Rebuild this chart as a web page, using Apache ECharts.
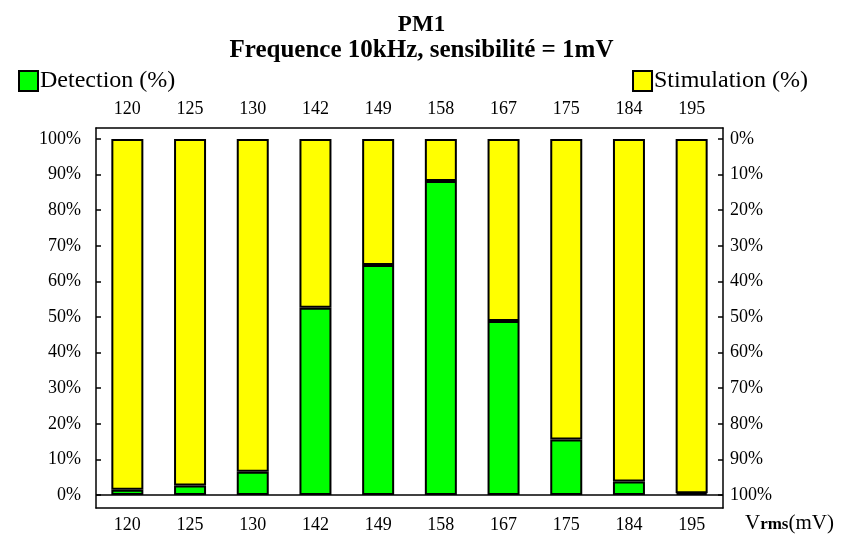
<!DOCTYPE html>
<html>
<head>
<meta charset="utf-8">
<script src="https://cdn.jsdelivr.net/npm/echarts@6/dist/echarts.min.js"></script>
<style>
  html, body { margin: 0; padding: 0; background: #fff; }
  #chart { width: 843px; height: 536px; }
</style>
</head>
<body>
<div id="chart"></div>
<script>
// Vrms levels (mV)
const categories = ['120', '125', '130', '142', '149', '158', '167', '175', '184', '195'];
// Share of pulses detected / stimulated at each level (%)
const detection = [1.5, 2.7, 6.5, 52.6, 64.6, 88.2, 48.9, 15.6, 3.8, 0.5];
const stimulation = [98.5, 97.3, 93.5, 47.4, 35.4, 11.8, 51.1, 84.4, 96.2, 99.5];
// Tick positions on the percentage axes
const leftTicks = [0, 10, 20, 30, 40, 50, 60, 70, 80, 90, 100];
const rightTicks = [0, 10, 20, 30, 40, 50, 60, 70, 80, 90, 100];

const FONT = '"Liberation Serif", "Times New Roman", serif';
const labelStyle = { fontFamily: FONT, fontSize: 18, color: '#000' };
const legendText = { fontFamily: FONT, fontSize: 24, color: '#000' };
const tickLine = { color: '#000', width: 1.5 };

const chart = echarts.init(document.getElementById('chart'), null, { renderer: 'canvas' });

chart.setOption({
  animation: false,
  backgroundColor: '#fff',
  title: {
    text: 'PM1',
    subtext: 'Frequence 10kHz, sensibilité = 1mV',
    left: 'center',
    top: 9,
    itemGap: 1,
    textStyle: { fontFamily: FONT, fontSize: 23, fontWeight: 'bold', color: '#000' },
    subtextStyle: { fontFamily: FONT, fontSize: 25, fontWeight: 'bold', color: '#000' }
  },
  legend: [
    {
      data: ['Detection (%)'],
      left: 13, top: 64,
      itemWidth: 19, itemHeight: 20, itemGap: 4,
      icon: 'rect',
      textStyle: Object.assign({ padding: [0, 0, 0, -3] }, legendText)
    },
    {
      data: ['Stimulation (%)'],
      right: 30, top: 64,
      itemWidth: 19, itemHeight: 20, itemGap: 4,
      icon: 'rect',
      textStyle: Object.assign({ padding: [0, 0, 0, -3] }, legendText)
    }
  ],
  grid: { left: 96, right: 120, top: 128, bottom: 28, containLabel: false },
  xAxis: [
    {
      type: 'category',
      data: categories,
      position: 'bottom',
      axisLine: { onZero: false, lineStyle: tickLine },
      axisTick: { alignWithLabel: true, inside: true, length: 5, lineStyle: tickLine },
      axisLabel: Object.assign({ margin: 8 }, labelStyle),
      name: '{v|V}{s|rms}{v|(mV)}',
      nameLocation: 'end',
      nameGap: 22,
      nameTextStyle: {
        verticalAlign: 'top',
        padding: [5, 0, 0, 0],
        rich: {
          v: { fontFamily: FONT, fontSize: 21, color: '#000' },
          s: { fontFamily: FONT, fontSize: 17, fontWeight: 'bold', color: '#000', padding: [3, 0, 0, 0] }
        }
      }
    },
    {
      type: 'category',
      data: categories,
      position: 'top',
      axisLine: { onZero: false, lineStyle: tickLine },
      axisTick: { alignWithLabel: true, inside: true, length: 5, lineStyle: tickLine },
      axisLabel: Object.assign({ margin: 10 }, labelStyle)
    }
  ],
  yAxis: [
    {
      type: 'value',
      position: 'left',
      min: -3.65,
      max: 103.1,
      axisLine: { show: true, onZero: false, lineStyle: tickLine },
      axisTick: { show: true, inside: true, length: 5, customValues: leftTicks, lineStyle: tickLine },
      axisLabel: Object.assign({ margin: 15, customValues: leftTicks, formatter: v => v + '%' }, labelStyle),
      splitLine: { show: false }
    },
    {
      type: 'value',
      position: 'right',
      inverse: true,
      min: -3.1,
      max: 103.65,
      axisLine: { show: true, onZero: false, lineStyle: tickLine },
      axisTick: { show: true, inside: true, length: 5, customValues: rightTicks, lineStyle: tickLine },
      axisLabel: Object.assign({ margin: 7, customValues: rightTicks, formatter: v => v + '%' }, labelStyle),
      splitLine: { show: false }
    }
  ],
  series: [
    {
      name: 'Detection (%)',
      type: 'bar',
      stack: 'total',
      xAxisIndex: 0,
      yAxisIndex: 0,
      barWidth: 32,
      data: detection,
      itemStyle: { color: '#00ff00', borderColor: '#000', borderWidth: 2 },
      markLine: {
        silent: true,
        symbol: 'none',
        label: { show: false },
        lineStyle: { color: '#000', width: 1.5, type: 'solid' },
        data: [{ yAxis: 0 }]
      }
    },
    {
      name: 'Stimulation (%)',
      type: 'bar',
      stack: 'total',
      xAxisIndex: 0,
      yAxisIndex: 0,
      barWidth: 32,
      data: stimulation,
      itemStyle: { color: '#ffff00', borderColor: '#000', borderWidth: 2 }
    }
  ]
});
</script>
</body>
</html>
